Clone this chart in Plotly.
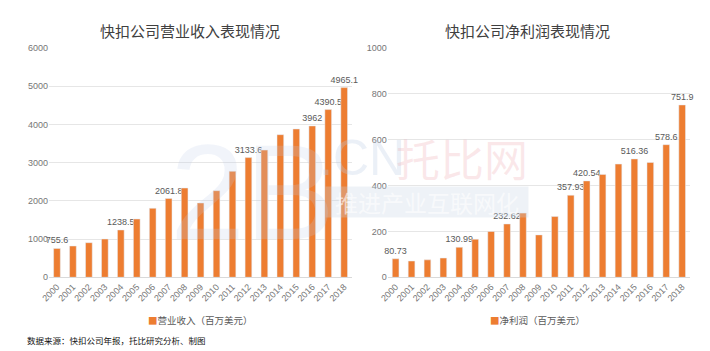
import plotly.graph_objects as go

years = [str(y) for y in range(2000, 2019)]
revenue = [755.6, 819, 906, 1002, 1238.5, 1526, 1806, 2061.8, 2337, 1945, 2267, 2775,
           3133.6, 3330, 3733, 3882, 3962, 4390.5, 4965.1]
profit = [80.73, 71, 76, 84, 130.99, 166, 200, 232.62, 280, 185, 265, 357.93,
          420.54, 449, 494, 516.36, 501, 578.6, 751.9]
rev_labels = ["755.6", "", "", "", "1238.5", "", "", "2061.8", "", "", "", "",
              "3133.6", "", "", "", "3962", "4390.5", "4965.1"]
prof_labels = ["80.73", "", "", "", "130.99", "", "", "232.62", "", "", "", "357.93",
               "420.54", "", "", "516.36", "", "578.6", "751.9"]
title_left = "快扣公司营业收入表现情况"
title_right = "快扣公司净利润表现情况"
legend_left = "营业收入（百万美元）"
legend_right = "净利润（百万美元）"
source = "数据来源：快扣公司年报，托比研究分析、制图"

ORANGE = "#ED7D31"
FONT = "Noto Sans CJK SC, Noto Sans, sans-serif"
NUMFONT = "Liberation Sans, Arial, sans-serif"
TXT = "#595959"
TICK = "#767676"

fig = go.Figure()
fig.add_trace(go.Bar(x=years, y=revenue, text=rev_labels, textposition="outside",
                     constraintext="none",
                     marker_color=ORANGE, xaxis="x", yaxis="y", cliponaxis=False,
                     textfont=dict(size=9, color=TXT, family=NUMFONT), showlegend=False))
fig.add_trace(go.Bar(x=years, y=profit, text=prof_labels, textposition="outside",
                     constraintext="none",
                     marker_color=ORANGE, xaxis="x2", yaxis="y2", cliponaxis=False,
                     textfont=dict(size=9, color=TXT, family=NUMFONT), showlegend=False))

ydom = [0.21, 0.863]
axis_common = dict(showgrid=False, showline=True, linecolor="#D9D9D9", linewidth=1,
                   tickangle=-45, tickfont=dict(size=9, color=TICK, family=NUMFONT),
                   ticks="", type="category", automargin=False)
yaxis_common = dict(showgrid=True, gridcolor="#E6E6E6", gridwidth=1, zeroline=False,
                    showline=False, tickfont=dict(size=9, color=TICK, family=NUMFONT),
                    ticks="", automargin=False)

fig.update_layout(
    width=710, height=351,
    margin=dict(l=0, r=0, t=0, b=0),
    paper_bgcolor="white", plot_bgcolor="white",
    font=dict(family=FONT, color=TXT),
    bargap=0.58,
    xaxis=dict(domain=[0.069, 0.496], anchor="y", **axis_common),
    yaxis=dict(domain=ydom, range=[0, 6000], dtick=1000, anchor="x", **yaxis_common),
    xaxis2=dict(domain=[0.546, 0.972], anchor="y2", **axis_common),
    yaxis2=dict(domain=ydom, range=[0, 1000], dtick=200, anchor="x2", **yaxis_common),
)

ann = []
ann.append(dict(text=title_left, x=190 / 710, y=(351 - 30) / 351, xref="paper",
                yref="paper", xanchor="center", yanchor="middle", showarrow=False,
                font=dict(size=15, color="#404040", family=FONT)))
ann.append(dict(text=title_right, x=527 / 710, y=(351 - 30) / 351, xref="paper",
                yref="paper", xanchor="center", yanchor="middle", showarrow=False,
                font=dict(size=15, color="#404040", family=FONT)))
ann.append(dict(text=f"<span style='color:{ORANGE}'>■</span>{legend_left}",
                x=200 / 710, y=(351 - 320) / 351, xref="paper", yref="paper",
                xanchor="center", yanchor="middle",
                showarrow=False, font=dict(size=9.5, color=TXT, family=FONT)))
ann.append(dict(text=f"<span style='color:{ORANGE}'>■</span>{legend_right}",
                x=537 / 710, y=(351 - 320) / 351, xref="paper", yref="paper",
                xanchor="center", yanchor="middle",
                showarrow=False, font=dict(size=9.5, color=TXT, family=FONT)))
ann.append(dict(text=source, x=25 / 710, y=(351 - 340) / 351, xref="paper", yref="paper",
                xanchor="left", yanchor="middle", showarrow=False,
                font=dict(size=8.5, color="#111111", family=FONT)))
# watermark
ann.append(dict(text="2B", x=252 / 710, y=(351 - 192) / 351, xref="paper",
                yref="paper", xanchor="center", yanchor="middle", showarrow=False,
                font=dict(size=135, color="rgba(190,205,230,0.22)", family="Liberation Sans")))
ann.append(dict(text=".CN", x=362 / 710, y=(351 - 158) / 351, xref="paper",
                yref="paper", xanchor="center", yanchor="middle", showarrow=False,
                font=dict(size=50, color="rgba(190,205,230,0.30)", family="Liberation Sans")))
ann.append(dict(text="托比网", x=462 / 710, y=(351 - 158) / 351, xref="paper",
                yref="paper", xanchor="center", yanchor="middle", showarrow=False,
                font=dict(size=44, color="rgba(235,160,170,0.25)", family=FONT)))
ann.append(dict(text="推进产业互联网化", x=427 / 710, y=(351 - 202) / 351, xref="paper",
                yref="paper", xanchor="center", yanchor="middle", showarrow=False,
                bgcolor="rgba(200,212,228,0.30)",
                width=200, height=28,
                font=dict(size=23, color="rgba(255,255,255,0.6)", family=FONT)))
fig.update_layout(annotations=ann)

fig.write_html("out.html")
